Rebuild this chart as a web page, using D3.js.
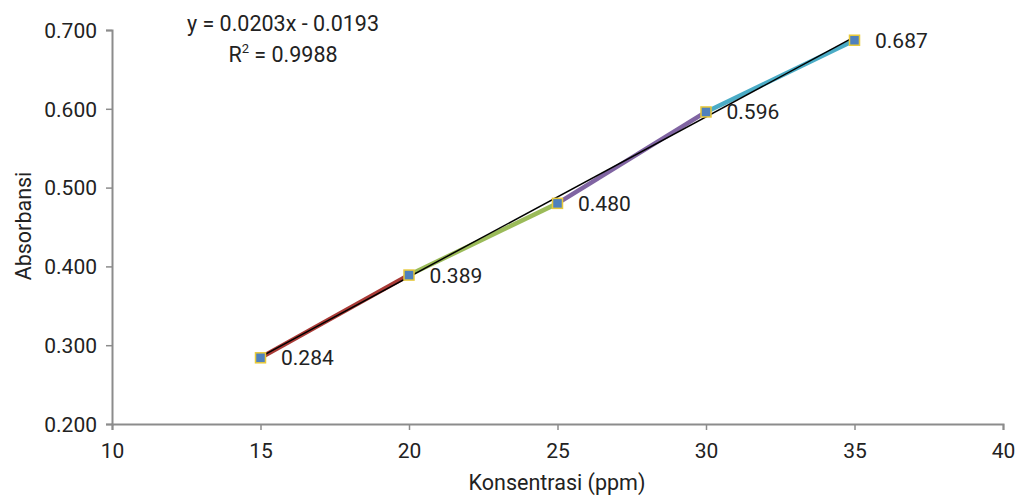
<!DOCTYPE html>
<html><head><meta charset="utf-8">
<script src="https://cdn.jsdelivr.net/npm/d3@7"></script>
<style>body{margin:0;background:#fff}svg{display:block;font-family:Roboto,"Noto Sans",sans-serif}</style>
</head><body><svg id="c" width="1016" height="495"></svg>
<script>
const conc = [15, 20, 25, 30, 35];
const absorb = [0.284, 0.389, 0.480, 0.596, 0.687];
const labels = ["0.284", "0.389", "0.480", "0.596", "0.687"];
const segColors = ["#A93A36", "#9BBB59", "#8064A2", "#4BACC6"];
const xTicks = [10, 15, 20, 25, 30, 35, 40];
const yTicks = [0.2, 0.3, 0.4, 0.5, 0.6, 0.7];
const slope = 0.0203, intercept = -0.0193;
const eqText = "y = 0.0203x - 0.0193";
const r2Text = " = 0.9988";

const svg = d3.select("#c");
const x = d3.scaleLinear().domain([10, 40]).range([112, 1003]);
const y = d3.scaleLinear().domain([0.2, 0.7]).range([424, 30]);

const axisColor = "#8c8c8c";
const gx = svg.append("g").attr("transform", "translate(0,424)")
  .call(d3.axisBottom(x).tickValues(xTicks).tickFormat(d3.format("d")).tickSizeOuter(0).tickSize(6).tickPadding(13));
const gy = svg.append("g").attr("transform", "translate(112,0)")
  .call(d3.axisLeft(y).tickValues(yTicks).tickFormat(d3.format(".3f")).tickSizeOuter(0).tickSize(6).tickPadding(9));
[gx, gy].forEach(g => {
  g.select(".domain").attr("stroke", axisColor).attr("stroke-width", 2);
  g.selectAll(".tick line").attr("stroke", axisColor).attr("stroke-width", 1.5);
  g.selectAll(".tick text").attr("fill", "#222").attr("font-size", 21).attr("font-family", "Roboto");
});
gy.selectAll(".tick text").attr("dy", "0.35em");
gx.selectAll(".tick text").attr("dy", "0.71em");

// colored segments
for (let i = 0; i < conc.length - 1; i++) {
  svg.append("line")
    .attr("x1", x(conc[i])).attr("y1", y(absorb[i]))
    .attr("x2", x(conc[i+1])).attr("y2", y(absorb[i+1]))
    .attr("stroke", segColors[i]).attr("stroke-width", 4.5);
}
// trendline
svg.append("line")
  .attr("x1", x(15)).attr("y1", y(slope*15+intercept))
  .attr("x2", x(35)).attr("y2", y(slope*35+intercept))
  .attr("stroke", "#000").attr("stroke-width", 1.5);

// markers
svg.selectAll("rect.m").data(conc).enter().append("rect")
  .attr("x", (d) => x(d) - 5).attr("y", (d, i) => y(absorb[i]) - 5)
  .attr("width", 10).attr("height", 10)
  .attr("fill", "#4F81BD").attr("stroke", "#E8C93A").attr("stroke-width", 1.5);

// data labels
svg.selectAll("text.l").data(conc).enter().append("text")
  .attr("x", d => x(d) + 20.5).attr("y", (d, i) => y(absorb[i]) + 7.5)
  .attr("font-size", 21).attr("fill", "#222").text((d, i) => labels[i]);

// equation
svg.append("text").attr("x", 283).attr("y", 31).attr("text-anchor", "middle")
  .attr("font-size", 21.5).attr("fill", "#222").text(eqText);
const r = svg.append("text").attr("x", 283).attr("y", 62).attr("text-anchor", "middle")
  .attr("font-size", 21.5).attr("fill", "#222");
r.append("tspan").text("R");
r.append("tspan").attr("font-size", 13).attr("dy", -9).text("2");
r.append("tspan").attr("dy", 9).text(r2Text);

// axis titles
svg.append("text").attr("x", 557).attr("y", 490).attr("text-anchor", "middle")
  .attr("font-size", 21.5).attr("fill", "#222").text("Konsentrasi (ppm)");
svg.append("text").attr("transform", "translate(31,226) rotate(-90)").attr("text-anchor", "middle")
  .attr("font-size", 21.5).attr("fill", "#222").text("Absorbansi");
</script></body></html>
